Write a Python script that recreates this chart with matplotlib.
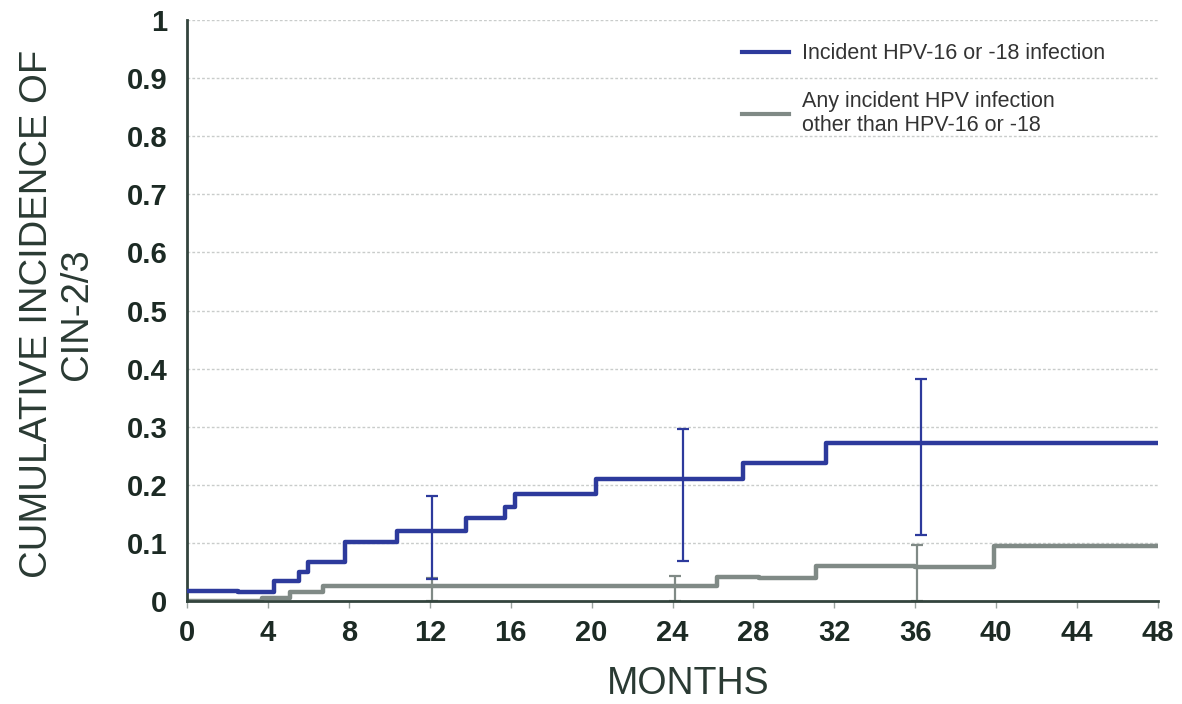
import matplotlib
matplotlib.use("Agg")
import matplotlib.pyplot as plt
from matplotlib.lines import Line2D

plt.rcParams['font.family'] = ['Liberation Sans', 'DejaVu Sans']

# ---- data ----
blue_t = [0, 2.5, 4.3, 5.56, 6.0, 7.8, 10.4, 13.8, 15.7, 16.2, 20.2, 27.5, 31.6, 48]
blue_v = [0.018, 0.016, 0.035, 0.050, 0.067, 0.102, 0.120, 0.142, 0.162, 0.184, 0.210, 0.238, 0.272, 0.272]

gray_t = [0, 3.7, 5.1, 6.7, 26.2, 28.3, 31.1, 36.0, 39.9, 48]
gray_v = [0.0, 0.005, 0.016, 0.026, 0.042, 0.040, 0.060, 0.058, 0.094, 0.094]

blue_err_x = [12.1, 24.5, 36.3]
blue_err_mid = [0.120, 0.210, 0.272]
blue_err_lo = [0.038, 0.069, 0.114]
blue_err_hi = [0.181, 0.296, 0.382]

gray_err_x = [12.1, 24.1, 36.1]
gray_err_mid = [0.026, 0.026, 0.058]
gray_err_lo = [0.0, 0.0, 0.0]
gray_err_hi = [0.040, 0.043, 0.097]

x_ticks = [0, 4, 8, 12, 16, 20, 24, 28, 32, 36, 40, 44, 48]
y_ticks = [0, 0.1, 0.2, 0.3, 0.4, 0.5, 0.6, 0.7, 0.8, 0.9, 1]
y_tick_labels = ['0', '0.1', '0.2', '0.3', '0.4', '0.5', '0.6', '0.7', '0.8', '0.9', '1']

labels = ['Incident HPV-16 or -18 infection',
          'Any incident HPV infection\nother than HPV-16 or -18']

BLUE = '#2d3a9c'
GRAY = '#808a86'
AXC = '#33443d'
TXT = '#1c2a24'

fig = plt.figure(figsize=(11.82, 7.04), dpi=100)
ax = fig.add_axes([187/1182, 1-601/704, (1158-187)/1182, (601-20)/704])

for y in y_ticks[1:]:
    ax.axhline(y, color='#c9cccb', lw=1.0, ls=(0, (2, 1.5)), zorder=0)

ax.step(gray_t, gray_v, where='post', color=GRAY, lw=3.2, zorder=2)
ax.step(blue_t, blue_v, where='post', color=BLUE, lw=3.2, zorder=3)

def errs(mid, lo, hi):
    return [[m - l for m, l in zip(mid, lo)], [h - m for m, h in zip(mid, hi)]]

ax.errorbar(gray_err_x, gray_err_mid, yerr=errs(gray_err_mid, gray_err_lo, gray_err_hi),
            fmt='none', ecolor=GRAY, elinewidth=1.6, capsize=4, capthick=1.6, zorder=2)
ax.errorbar(blue_err_x, blue_err_mid, yerr=errs(blue_err_mid, blue_err_lo, blue_err_hi),
            fmt='none', ecolor=BLUE, elinewidth=1.6, capsize=4, capthick=1.6, zorder=3)

ax.set_xlim(0, 48)
ax.set_ylim(0, 1)
ax.set_xticks(x_ticks)
ax.set_xticklabels([str(t) for t in x_ticks])
ax.set_yticks(y_ticks)
ax.set_yticklabels(y_tick_labels)
for s in ['top', 'right']:
    ax.spines[s].set_visible(False)
for s in ['left', 'bottom']:
    ax.spines[s].set_color(AXC)
    ax.spines[s].set_linewidth(2.0)
ax.tick_params(axis='x', direction='out', length=5, width=1, color='#9aa39f',
               labelsize=21, labelcolor=TXT, pad=8)
ax.tick_params(axis='y', length=0, labelsize=21, labelcolor=TXT, pad=14)
for lab in ax.get_xticklabels() + ax.get_yticklabels():
    lab.set_fontweight('bold')

fig.text(57/1182, 1-314/704, 'CUMULATIVE INCIDENCE OF\nCIN-2/3', rotation=90,
         ha='center', va='center', fontsize=27.5, color='#2a3a33', multialignment='center',
         linespacing=1.15)
fig.text(688/1182, 1-684/704, 'MONTHS', ha='center', va='center', fontsize=27, color='#2a3a33')

handles = [Line2D([], [], color=BLUE, lw=3), Line2D([], [], color=GRAY, lw=3)]
ax.legend(handles, labels, loc='upper left', bbox_to_anchor=(727/1182, 1-28/704),
          bbox_transform=fig.transFigure, frameon=False, fontsize=15.5,
          handlelength=2.2, handletextpad=0.6, labelspacing=1.25, labelcolor='#333',
          borderpad=0.2)

fig.savefig('out.png', dpi=100, facecolor='white')
